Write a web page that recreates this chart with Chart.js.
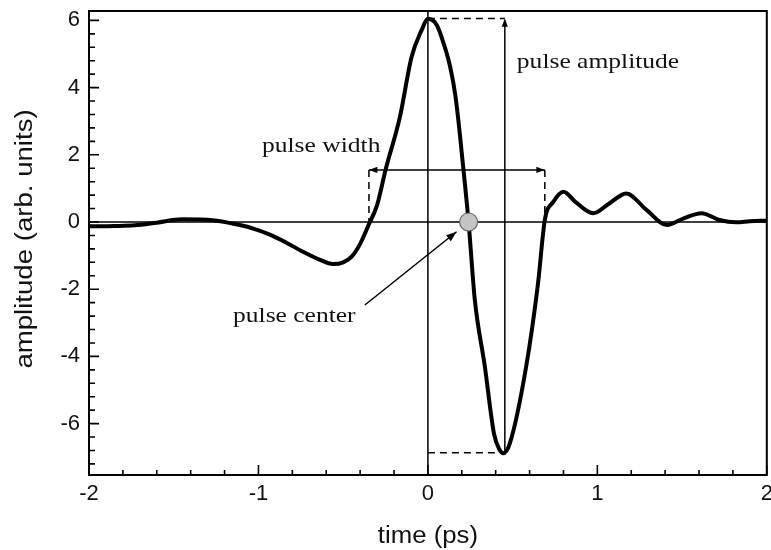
<!DOCTYPE html>
<html>
<head>
<meta charset="utf-8">
<script src="https://cdn.jsdelivr.net/npm/chart.js@4.4.1/dist/chart.umd.min.js"></script>
<style>
  html, body { margin: 0; padding: 0; background: #fff; overflow: hidden; }
  #wrap { width: 771px; height: 550px; overflow: hidden; }
</style>
</head>
<body>
<div id="wrap"><canvas id="pulseChart" width="777" height="550"></canvas></div>
<script>
// waveform
const timePs = [-2.0, -1.85, -1.73, -1.6, -1.45, -1.27, -1.14, -1.04, -0.94, -0.84, -0.74, -0.64,
  -0.56, -0.5, -0.45, -0.4, -0.35, -0.3, -0.25, -0.165, -0.096, -0.037, 0.0, 0.04, 0.07, 0.16,
  0.21, 0.24, 0.277, 0.336, 0.39, 0.42, 0.445, 0.484, 0.58, 0.65, 0.69, 0.74, 0.8, 0.87, 0.975,
  1.07, 1.17, 1.29, 1.41, 1.51, 1.615, 1.72, 1.82, 1.9, 2.0];
const amplitude = [-0.13, -0.12, -0.1, -0.02, 0.08, 0.05, -0.06, -0.18, -0.36, -0.6, -0.88, -1.12,
  -1.25, -1.2, -1.03, -0.65, -0.09, 0.5, 1.55, 3.13, 4.92, 5.71, 6.05, 5.95, 5.66, 3.83,
  1.55, 0.0, -2.32, -4.3, -6.3, -6.75, -6.88, -6.58, -4.3, -1.82, 0.06, 0.6, 0.9, 0.6, 0.26,
  0.55, 0.85, 0.36, -0.09, 0.11, 0.26, 0.06, -0.01, 0.02, 0.04];

const xTicks = [-2, -1, 0, 1, 2];
const yTicks = [-6, -4, -2, 0, 2, 4, 6];
const xTitle = "time (ps)";
const yTitle = "amplitude (arb. units)";

// annotation values (data units)
const centerTime = [0.24];
const centerAmp = [0];
const peakAmp = 6.06;
const troughAmp = -6.87;
const amplitudeArrowX = 0.454;
const widthLevel = 1.55;
const widthStart = -0.348;
const widthEnd = 0.69;
const centerArrowFrom = [-0.372, -2.47];
const centerArrowTo = [0.169, -0.29];

const labels = [
  { text: "pulse width", x: -0.979, y: 2.09 },
  { text: "pulse amplitude", x: 0.525, y: 4.58 },
  { text: "pulse center", x: -1.15, y: -2.97 }
];

const curve = timePs.map((t, i) => ({ x: t, y: amplitude[i] }));
const centerPts = centerTime.map((t, i) => ({ x: t, y: centerAmp[i] }));

function arrowHead(ctx, x1, y1, x2, y2, size) {
  const a = Math.atan2(y2 - y1, x2 - x1);
  ctx.beginPath();
  ctx.moveTo(x2, y2);
  ctx.lineTo(x2 - size * Math.cos(a - 0.35), y2 - size * Math.sin(a - 0.35));
  ctx.lineTo(x2 - size * Math.cos(a + 0.35), y2 - size * Math.sin(a + 0.35));
  ctx.closePath();
  ctx.fill();
}

const annotations = {
  id: "annotations",
  beforeDatasetsDraw(chart) {
    const { ctx, chartArea: area, scales: { x, y } } = chart;
    ctx.save();
    ctx.strokeStyle = "#000";
    ctx.fillStyle = "#000";
    ctx.lineWidth = 1.5;

    // zero lines
    ctx.beginPath();
    ctx.moveTo(area.left, y.getPixelForValue(0));
    ctx.lineTo(area.right, y.getPixelForValue(0));
    ctx.moveTo(x.getPixelForValue(0), area.top);
    ctx.lineTo(x.getPixelForValue(0), area.bottom);
    ctx.stroke();

    // amplitude arrow
    const ax = x.getPixelForValue(amplitudeArrowX);
    const yTop = y.getPixelForValue(peakAmp);
    const yBot = y.getPixelForValue(troughAmp);
    ctx.beginPath();
    ctx.moveTo(ax, yBot);
    ctx.lineTo(ax, yTop + 2);
    ctx.stroke();
    arrowHead(ctx, ax, yBot, ax, yTop, 9);

    // width arrow
    const wy = y.getPixelForValue(widthLevel);
    const wx1 = x.getPixelForValue(widthStart);
    const wx2 = x.getPixelForValue(widthEnd);
    ctx.beginPath();
    ctx.moveTo(wx1, wy);
    ctx.lineTo(wx2, wy);
    ctx.stroke();
    arrowHead(ctx, wx2, wy, wx1, wy, 9);
    arrowHead(ctx, wx1, wy, wx2, wy, 9);

    // dashed guides
    ctx.setLineDash([7, 5]);
    ctx.beginPath();
    ctx.moveTo(x.getPixelForValue(0), yTop);
    ctx.lineTo(ax, yTop);
    ctx.moveTo(x.getPixelForValue(0), yBot);
    ctx.lineTo(ax, yBot);
    ctx.moveTo(wx1, wy);
    ctx.lineTo(wx1, y.getPixelForValue(0));
    ctx.moveTo(wx2, wy);
    ctx.lineTo(wx2, y.getPixelForValue(0));
    ctx.stroke();
    ctx.setLineDash([]);

    // center arrow
    const cx1 = x.getPixelForValue(centerArrowFrom[0]);
    const cy1 = y.getPixelForValue(centerArrowFrom[1]);
    const cx2 = x.getPixelForValue(centerArrowTo[0]);
    const cy2 = y.getPixelForValue(centerArrowTo[1]);
    ctx.beginPath();
    ctx.moveTo(cx1, cy1);
    ctx.lineTo(cx2, cy2);
    ctx.stroke();
    arrowHead(ctx, cx1, cy1, cx2, cy2, 11);

    // serif labels
    ctx.font = "22px 'Liberation Serif'";
    ctx.fillStyle = "#111";
    ctx.textBaseline = "alphabetic";
    labels.forEach(l => {
      ctx.save();
      ctx.translate(x.getPixelForValue(l.x), y.getPixelForValue(l.y));
      ctx.scale(1.16, 1);
      ctx.fillText(l.text, 0, 0);
      ctx.restore();
    });
    ctx.restore();
  },
  afterDatasetsDraw(chart) {
    const { ctx, chartArea: area, scales: { x, y } } = chart;
    ctx.save();
    ctx.strokeStyle = "#000";
    ctx.lineWidth = 2;
    ctx.strokeRect(area.left, area.top, area.right - area.left, area.bottom - area.top);

    ctx.lineWidth = 1.6;
    ctx.beginPath();
    // x ticks, inward, minor every 0.2
    for (let i = 0; i <= 20; i++) {
      const v = -2 + i * 0.2;
      const px = x.getPixelForValue(v);
      const len = i % 5 === 0 ? 10 : 5;
      ctx.moveTo(px, area.bottom);
      ctx.lineTo(px, area.bottom - len);
    }
    // y ticks, inward, minor every 0.4
    for (let i = -18; i <= 15; i++) {
      const v = i * 0.4;
      const py = y.getPixelForValue(v);
      if (py < area.top || py > area.bottom) continue;
      const len = i % 5 === 0 ? 10 : 6;
      ctx.moveTo(area.left, py);
      ctx.lineTo(area.left + len, py);
    }
    ctx.stroke();

    // axis titles (the original sans face is a bit wider than Liberation Sans)
    ctx.fillStyle = "#111";
    ctx.font = "23px 'Liberation Sans'";
    ctx.textAlign = "center";
    ctx.textBaseline = "alphabetic";
    ctx.save();
    ctx.translate((area.left + area.right) / 2, 543);
    ctx.scale(1.12, 1);
    ctx.fillText(xTitle, 0, 0);
    ctx.restore();
    ctx.save();
    ctx.translate(32, 239);
    ctx.rotate(-Math.PI / 2);
    ctx.scale(1.2, 1);
    ctx.fillText(yTitle, 0, 0);
    ctx.restore();
    ctx.restore();
  }
};

new Chart(document.getElementById("pulseChart"), {
  type: "scatter",
  data: {
    datasets: [
      {
        data: centerPts,
        showLine: false,
        pointRadius: 9,
        pointBackgroundColor: "#c4c4c4",
        pointBorderColor: "#666",
        pointBorderWidth: 1.2,
        order: 0
      },
      {
        data: curve,
        showLine: true,
        borderColor: "#000",
        borderWidth: 4,
        pointRadius: 0,
        cubicInterpolationMode: "monotone",
        borderJoinStyle: "round",
        order: 1
      }
    ]
  },
  plugins: [annotations],
  options: {
    responsive: false,
    animation: false,
    layout: { padding: { left: 0, top: 11, right: 4, bottom: 0 } },
    plugins: { legend: { display: false }, tooltip: { enabled: false } },
    scales: {
      x: {
        type: "linear",
        min: -2,
        max: 2,
        afterBuildTicks: s => { s.ticks = xTicks.map(v => ({ value: v })); },
        afterFit: s => { s.height = 75; s.paddingLeft = 0; s.paddingRight = 0; },
        grid: { display: false, drawTicks: false },
        border: { display: false },
        ticks: { color: "#111", padding: 6, font: { family: "'Liberation Sans'", size: 22 } }
      },
      y: {
        type: "linear",
        min: -7.53,
        max: 6.28,
        afterBuildTicks: s => { s.ticks = yTicks.map(v => ({ value: v })); },
        afterFit: s => { s.width = 89; s.paddingTop = 0; s.paddingBottom = 0; },
        grid: { display: false, drawTicks: false },
        border: { display: false },
        ticks: { color: "#111", padding: 9, font: { family: "'Liberation Sans'", size: 22 } }
      }
    }
  }
});
</script>
</body>
</html>
